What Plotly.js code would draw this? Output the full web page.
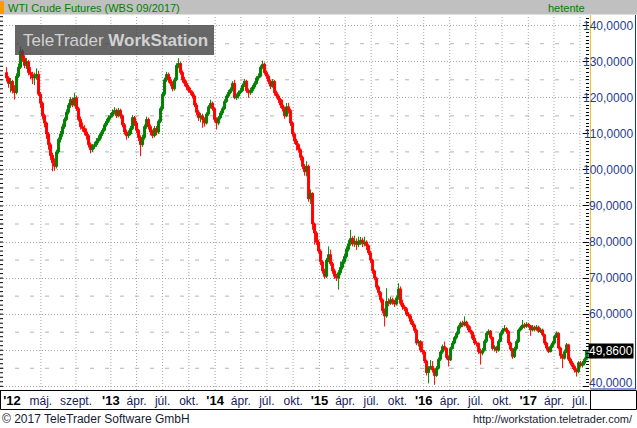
<!DOCTYPE html>
<html><head><meta charset="utf-8">
<script src="https://cdn.plot.ly/plotly-3.0.1.min.js"></script>
<style>html,body{margin:0;padding:0;background:#fff;overflow:hidden}#chart{width:637px;height:428px}</style>
</head><body><div id="chart"></div>
<script>
// ---- data (weekly OHLC) ----
const firstWeek = '2012-01-02';
const open = [127,125.5,124,124.5,122,121.5,126,128.5,133,131,
129,130,127,126.5,125.5,126,126.5,121,118.5,115,
113,110,107,104,102,101,105,108.5,110,112,
114,116,118,119.5,118,120,117,114,112,111.5,
110.5,109.5,107,105.6,106.5,107,108,108.8,110,111,
112.5,113.5,114.5,115,116,116.5,115,116.5,115,112.5,
110.5,109.5,110,111.5,114.5,113,111,109,107,109,
112,114,112,110.5,109.5,111.5,110.5,113.5,117,121,
125,126.5,125,124,122.5,125,129,129.5,127,125,
124,123,122,121.5,120.5,118,116,114.5,115,114,
113,115.5,117.5,118.5,117,114,113,114.5,115.8,117,
119,120.5,121.5,122.3,124,120,120.5,121.5,122,123.5,
124.6,122,121.4,122,123,124,125.5,126,128.5,129.3,
127,126,124.5,123.2,124.5,121.4,120.5,119.5,118,117,
115,117.5,116.5,113,110,108,107,105.6,103.5,101,
99.5,101,92,93.5,85,82.5,80,77.5,74.5,72,
70.5,75,76.5,74,72,70.5,70,71.5,73,74.5,
76,78,79.5,81,79.5,80.2,79.3,80,80.5,79.5,
80,79,77,75,72,70,67.5,66,64,61,
59.5,63.5,63,64,63.5,62.8,64.5,67,63,62,
61.5,60,59.5,58,57,55.5,52,52.4,50,49.5,
47,43.8,45,45.5,44.5,43,45,47.5,49.5,51,
50.5,48,47.3,50.5,52,53.5,54.7,56.5,57.5,57,
57.8,56.8,55.6,55,53.3,52,51.9,49.6,49.2,50,
52.5,54.7,55.3,53.5,50.5,50.8,50,52.5,54.7,55.6,
56,55.2,52,50.3,48.2,50.5,52.4,55.6,56.3,57,
56.6,57.2,56.8,55.6,56.4,55.8,56.4,55.2,55.6,54.3,
52,50.6,49.6,51,52,53.8,54.7,50.6,48.5,47.8,
49.6,51.5,47.5,46.4,45.5,44.5,44,46.5,45.8,46.4,
47.5];
const high = [128.5,126,125.5,125,123.5,126.8,129.5,134.2,133.5,131.8,
131,130.5,128.5,127.2,127,128.2,127.5,121.6,119,115.6,
113.4,110.5,107.6,104.8,103.2,105.6,109,110.8,112.8,114.6,
116.8,118.6,120.2,120,121.4,120.6,117.5,114.8,113.2,112.4,
111.5,110,107.6,107.2,107.8,108.8,109.6,110.6,111.6,113,
114.2,115.2,115.8,116.8,117.4,117,117.2,117,115.4,113,
111.2,111,112.2,115.2,115,113.6,111.4,109.6,109.8,112.6,
114.8,114.5,112.6,111.2,112.2,112.2,114,117.6,121.6,125.6,
127.2,127,125.8,124.6,125.6,129.6,131,130,127.6,125.8,
124.8,123.6,122.8,122,121,118.6,116.6,115.8,115.6,114.6,
116,118,119.5,119,117.4,114.6,115,116.4,117.6,119.6,
121,122.2,122.9,124.6,125,121.2,122,122.8,124,125.2,
125,122.6,122.8,123.6,124.6,126,126.8,129,130.3,129.8,
127.6,126.5,125,125.2,125,122,121,120,119.5,117.6,
118.6,118.6,117,113.5,110.4,108.6,107.4,106,104,101.6,
102.4,101.5,94.6,93.8,85.4,83,80.6,78,75,72.6,
75.6,78.8,77.9,74.5,72.6,71.2,72.2,74.6,75.2,76.8,
78.8,80.6,83.4,81.6,81.8,81,81.5,81.4,81.2,81.5,
80.5,79.4,77.6,75.4,72.4,70.4,68,66.4,64.4,61.6,
67.2,64.4,64.8,64.6,64,65.2,68.6,67.7,64,62.6,
62,60.6,60,58.6,57.4,56,53,52.8,52.4,50,
47.4,45.6,47.3,47,45,45.6,48,50,51.6,52.4,
50.8,48.6,51,52.6,54,55.2,57,58,58.2,59.4,
58.2,57.2,56.6,55.4,54.3,52.6,52.2,50.5,50.6,53,
55.2,55.8,55.6,53.8,51.4,51.2,53,55.2,56.2,57,
56.4,55.6,52.4,50.6,51,53,56,56.8,58.4,57.6,
57.8,57.6,57,57,56.8,57,56.8,56.2,56,54.6,
52.4,51,51.6,52.6,54.3,55.2,55,51,49,50.2,
52,51.8,48,47,46,45,47,47,47,48,
50.2];
const low = [124.5,122.8,121.5,121.2,119.5,121,125.5,128,130,128.2,
128,126.2,125.2,123.8,123.5,125,120.5,117.2,114,111.8,
108.6,105.6,102.8,99.6,99.8,100.4,104.5,107.6,109.2,111.4,
113.5,115.4,117.2,117.4,117.6,116.4,113.4,111.2,110.6,109.6,
108.4,106.2,104.6,105,105.8,106.4,107.4,108.2,109.4,110.6,
112,113,114,114.6,115.4,114.4,114.6,114.2,111.8,109.8,
108.4,108.8,109.6,111,112.2,110.2,108,103.8,106.4,108.4,
111.4,111.2,109.6,108.8,109,109.6,110,113,116.5,120.4,
124.4,124.2,123.2,121.8,122,124.6,128.2,126.4,124.2,123.2,
122.2,121.4,120.8,119.8,117.4,115.2,113.6,113.2,111.7,112,
112.6,115,117,116.4,113.2,111.2,112.4,114,115.2,116.6,
118.6,120,121,121.8,119.6,119.4,119.8,121,121.6,123,
121.4,120,120.8,121.4,122.4,123.6,124.8,125.6,128,126.4,
125.2,123.8,122.4,122.8,120.6,119.8,118.6,117.2,116.2,114.2,
114.6,115.6,112.2,109.2,107.2,105.4,104.8,102.6,100.2,98.4,
98.2,91.2,90.6,83.4,79.3,79.2,76.8,73.6,71.2,69.8,
70,74.4,73.4,71.2,69.8,69.2,66.8,70.8,72.4,74,
75.4,77.4,79,78.8,78.6,77.8,78.6,79.2,78.6,78.8,
77.8,76.4,74.2,71.2,69.4,66.8,65.2,63.2,60.2,56.6,
59,62.2,62.6,62.6,62,62.4,64,62.4,61.2,60.8,
59.4,58.8,57.2,56.4,54.8,51.4,51,49.4,48.8,46.4,
43,40.8,44.6,43.8,40.4,42.6,44.6,47,49,50,
47.4,45.5,47,50.2,51.6,53,54.3,56,56.4,56.6,
56.2,55,54.4,52.8,51.4,51,49,46,48.6,49.6,
52,54.2,53,50,49.6,49.2,49.6,52.2,54.2,55.2,
54.6,51.4,49.8,47.6,47.8,50,52,55.2,55.8,56,
56.2,56.2,54,55.2,55.2,55.4,54.8,54.8,53.8,51.4,
50,49.2,49.4,50.6,51.6,53.4,50.2,47.6,45,47.4,
49.2,47,45.8,44.8,43.8,42.7,43.6,45.2,45.2,45.8,
47.2];
const close = [125.5,124,124.5,122,121.5,126,128.5,133,131,129,
130,127,126.5,125.5,126,126.5,121,118.5,115,113,
110,107,104,102,101,105,108.5,110,112,114,
116,118,119.5,118,120,117,114,112,111.5,110.5,
109.5,107,105.6,106.5,107,108,108.8,110,111,112.5,
113.5,114.5,115,116,116.5,115,116.5,115,112.5,110.5,
109.5,110,111.5,114.5,113,111,109,107,109,112,
114,112,110.5,109.5,111.5,110.5,113.5,117,121,125,
126.5,125,124,122.5,125,129,129.5,127,125,124,
123,122,121.5,120.5,118,116,114.5,115,114,113,
115.5,117.5,118.5,117,114,113,114.5,115.8,117,119,
120.5,121.5,122.3,124,120,120.5,121.5,122,123.5,124.6,
122,121.4,122,123,124,125.5,126,128.5,129.3,127,
126,124.5,123.2,124.5,121.4,120.5,119.5,118,117,115,
117.5,116.5,113,110,108,107,105.6,103.5,101,99.5,
101,92,93.5,85,82.5,80,77.5,74.5,72,70.5,
75,76.5,74,72,70.5,70,71.5,73,74.5,76,
78,79.5,81,79.5,80.2,79.3,80,80.5,79.5,80,
79,77,75,72,70,67.5,66,64,61,59.5,
63.5,63,64,63.5,62.8,64.5,67,63,62,61.5,
60,59.5,58,57,55.5,52,52.4,50,49.5,47,
43.8,45,45.5,44.5,43,45,47.5,49.5,51,50.5,
48,47.3,50.5,52,53.5,54.7,56.5,57.5,57,57.8,
56.8,55.6,55,53.3,52,51.9,49.6,49.2,50,52.5,
54.7,55.3,53.5,50.5,50.8,50,52.5,54.7,55.6,56,
55.2,52,50.3,48.2,50.5,52.4,55.6,56.3,57,56.6,
57.2,56.8,55.6,56.4,55.8,56.4,55.2,55.6,54.3,52,
50.6,49.6,51,52,53.8,54.7,50.6,48.5,47.8,49.6,
51.5,47.5,46.4,45.5,44.5,44,46.5,45.8,46.4,47.5,
49.86];

// ---- axis labels ----
const xTickDates = ['2012-01-21','2012-05-01','2012-09-01','2013-01-01','2013-04-01','2013-07-01','2013-10-01',
  '2014-01-01','2014-04-01','2014-07-01','2014-10-01','2015-01-01','2015-04-01','2015-07-01','2015-10-01',
  '2016-01-01','2016-04-01','2016-07-01','2016-10-01','2017-01-01','2017-04-01','2017-07-01'];
const xTickText = ["'12","máj.","szept.","'13","ápr.","júl.","okt.","'14","ápr.","júl.","okt.",
  "'15","ápr.","júl.","okt.","'16","ápr.","júl.","okt.","'17","ápr.","júl."];
const xGridDates = ['2012-05-01','2012-09-01','2013-01-01','2013-04-01','2013-07-01','2013-10-01',
  '2014-01-01','2014-04-01','2014-07-01','2014-10-01','2015-01-01','2015-04-01','2015-07-01','2015-10-01',
  '2016-01-01','2016-04-01','2016-07-01','2016-10-01','2017-01-01','2017-04-01','2017-07-01'];
const yTickVals = [40,50,60,70,80,90,100,110,120,130,140];
const yTickText = ['40,0000','50,0000','60,0000','70,0000','80,0000','90,0000','100,0000','110,0000','120,0000','130,0000','140,0000'];
const yDashVals = [45,55,65,75,85,95,105,115,125,135];
const lastPriceText = '49,8600';

// ---- build ----
const t0 = Date.parse(firstWeek + 'T00:00:00Z');
const weeks = close.map((_, i) => new Date(t0 + i * 7 * 864e5).toISOString().slice(0, 10));

const FONT = 'Liberation Sans, Arial, sans-serif';
const PW = 589, PB = 390, PH = 374;
const px = x => x / PW;
const py = y => (PB - y) / PH;

const shapes = [];
// title bar
shapes.push({type:'rect', xref:'paper', yref:'paper', x0:0, x1:px(637), y0:py(14.5), y1:py(0), fillcolor:'#c0c0c0', line:{width:0}});
shapes.push({type:'rect', xref:'paper', yref:'paper', x0:0, x1:px(4), y0:py(14), y1:py(1), fillcolor:'#ff9900', line:{width:0}});
// vertical dotted gridlines
xGridDates.forEach(d => shapes.push({type:'line', xref:'x', yref:'paper', x0:d, x1:d, y0:0, y1:1, layer:'below',
  line:{color:'#a8a8a8', width:1, dash:'1px,2px'}}));
// dashed half-step gridlines
yDashVals.forEach(v => shapes.push({type:'line', xref:'paper', yref:'y', x0:0, x1:1, y0:v, y1:v, layer:'below',
  line:{color:'#b4b4b4', width:1, dash:'4px,11px'}}));
// left edge ticks
for (let v = 40; v <= 142.5; v += 1.25) {
  shapes.push({type:'line', xref:'paper', yref:'y', x0:0, x1:px(3), y0:v, y1:v, line:{color:'#000', width:1}});
}
// right panel borders
shapes.push({type:'line', xref:'paper', yref:'paper', x0:px(590.5), x1:px(590.5), y0:py(389), y1:py(15), line:{color:'#f0c030', width:1}});
shapes.push({type:'line', xref:'paper', yref:'paper', x0:px(635.5), x1:px(635.5), y0:py(389), y1:py(15), line:{color:'#1030c0', width:1}});
shapes.push({type:'line', xref:'paper', yref:'paper', x0:px(590.5), x1:px(636), y0:py(389), y1:py(389), line:{color:'#1030c0', width:1}});
// bottom label band
shapes.push({type:'rect', xref:'paper', yref:'paper', x0:px(0.5), x1:px(636.5), y0:py(409.5), y1:py(390.5), line:{color:'#000', width:1}});
shapes.push({type:'line', xref:'paper', yref:'paper', x0:px(590.5), x1:px(590.5), y0:py(409.5), y1:py(390.5), line:{color:'#000', width:1}});
// watermark box
shapes.push({type:'rect', xref:'paper', yref:'paper', x0:px(15), x1:px(214), y0:py(55), y1:py(25), layer:'above',
  fillcolor:'rgba(70,70,70,0.82)', line:{width:0}});

const annotations = [];
annotations.push({xref:'paper', yref:'paper', x:px(6), y:py(7.5), xanchor:'left', yanchor:'middle', showarrow:false,
  text:'WTI Crude Futures (WBS 09/2017)', font:{family:FONT, size:11, color:'#008000'}});
annotations.push({xref:'paper', yref:'paper', x:px(587), y:py(7.5), xanchor:'right', yanchor:'middle', showarrow:false,
  text:'hetente', font:{family:FONT, size:11, color:'#008000'}});
annotations.push({xref:'paper', yref:'paper', x:px(115), y:py(40), xanchor:'center', yanchor:'middle', showarrow:false,
  text:'TeleTrader <b>WorkStation</b>', font:{family:FONT, size:17, color:'#d2d2d2'}});
yTickVals.forEach((v, k) => annotations.push({xref:'paper', yref:'y', x:px(635), y:v, xanchor:'right', yanchor:'middle',
  yshift: v === 40 ? 3 : 0, showarrow:false, text:yTickText[k], font:{family:FONT, size:12, color:'#1f3d8f'}}));
annotations.push({xref:'paper', yref:'y', x:px(634), y:close[close.length - 1], xanchor:'right', yanchor:'middle', showarrow:false,
  text:lastPriceText, bgcolor:'#000', borderpad:0, font:{family:FONT, size:12, color:'#fff'}});
annotations.push({xref:'paper', yref:'paper', x:0, y:py(419), xanchor:'left', yanchor:'middle', showarrow:false,
  text:'© 2017 TeleTrader Software GmbH', font:{family:FONT, size:12, color:'#1a1a33'}});
annotations.push({xref:'paper', yref:'paper', x:px(635), y:py(419), xanchor:'right', yanchor:'middle', showarrow:false,
  text:'http://workstation.teletrader.com/', font:{family:FONT, size:11, color:'#1a1a33'}});

const tickText = xTickText.map(t => t.startsWith("'") ? '<span style="color:#000;font-size:13px"><b>' + t + '</b></span>' : t);

const trace = {
  type:'candlestick', x:weeks, open:open, high:high, low:low, close:close,
  increasing:{line:{color:'#008000', width:1}, fillcolor:'#008000'},
  decreasing:{line:{color:'#ff0000', width:1}, fillcolor:'#ff0000'},
  whiskerwidth:0, hoverinfo:'skip', showlegend:false
};

const layout = {
  width:637, height:428,
  margin:{l:0, r:48, t:16, b:38, pad:0},
  paper_bgcolor:'#fff', plot_bgcolor:'#fff',
  font:{family:FONT, size:12, color:'#14205e'},
  boxgap:0, boxgroupgap:0,
  showlegend:false,
  xaxis:{type:'date', range:['2011-12-10', '2017-08-01 11:00'], tickmode:'array', tickvals:xTickDates, ticktext:tickText,
    showgrid:false, ticks:'', showline:true, linecolor:'#000', linewidth:1, zeroline:false,
    rangeslider:{visible:false}, tickfont:{family:FONT, size:12, color:'#14205e'}, fixedrange:true},
  yaxis:{side:'right', range:[38.97, 142.69], tickmode:'linear', tick0:40, dtick:10, showticklabels:false,
    ticks:'inside', ticklen:6, tickcolor:'#000', tickwidth:1,
    showgrid:true, gridcolor:'#a8a8a8', griddash:'1px,2px', zeroline:false, showline:false,
    minor:{tickmode:'linear', tick0:40, dtick:1, ticks:'inside', ticklen:3, tickcolor:'#000', showgrid:false},
    fixedrange:true},
  shapes:shapes, annotations:annotations
};

Plotly.newPlot('chart', [trace], layout, {staticPlot:true, displayModeBar:false});
</script>
</body></html>
